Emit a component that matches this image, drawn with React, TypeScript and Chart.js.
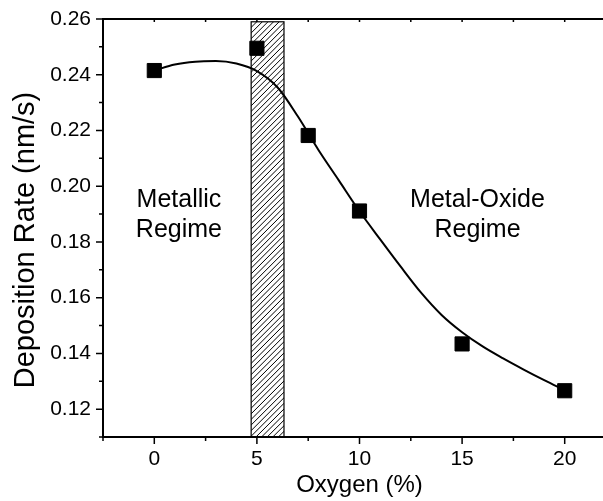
import React, { useEffect, useRef } from "react";
import { Chart, registerables } from "chart.js";

Chart.register(...registerables);

// Measured data points
const oxygen = [0, 5, 7.5, 10, 15, 20];
const depositionRate = [0.2415, 0.2495, 0.2182, 0.1911, 0.1434, 0.1266];

// Fitted curve
const fitX = [0, 1, 2, 3, 4, 5, 6, 7, 8, 9, 10, 11, 12, 13, 14, 15, 16, 17, 18, 19, 20];
const fitY = [
  0.2415, 0.2437, 0.2447, 0.2449, 0.244, 0.2413, 0.2355, 0.225, 0.213, 0.202, 0.191,
  0.181, 0.1712, 0.1618, 0.1538, 0.1476, 0.1425, 0.1382, 0.1342, 0.1304, 0.1268,
];

// Axes
const xRange = [-2.5, 22.5];
const yRange = [0.11, 0.26];
const xMajorTicks = [0, 5, 10, 15, 20];
const xMinorTicks = [-2.5, 2.5, 7.5, 12.5, 17.5, 22.5];
const yMajorTicks = [0.12, 0.14, 0.16, 0.18, 0.2, 0.22, 0.24, 0.26];
const yMinorTicks = [0.11, 0.13, 0.15, 0.17, 0.19, 0.21, 0.23, 0.25];
const xTitle = "Oxygen (%)";
const yTitle = "Deposition Rate (nm/s)";

// Transition band (hatched)
const bandX = [4.72, 6.32];
const bandTop = 0.259;

// Regime labels (x, first baseline y)
const regimeText = [
  ["Metallic", "Regime"],
  ["Metal-Oxide", "Regime"],
];
const regimeX = [1.2, 15.75];
const regimeY = [0.1926, 0.1926];

const FONT = "'Liberation Sans', Arial, Helvetica, sans-serif";

export default function App() {
  const ref = useRef<HTMLCanvasElement | null>(null);

  useEffect(() => {
    const canvas = ref.current;
    if (!canvas) return;

    const decor = {
      id: "decor",
      beforeDatasetsDraw(chart: any) {
        const { ctx, scales } = chart;
        const x = scales.x;
        const y = scales.y;
        const x0 = x.getPixelForValue(bandX[0]);
        const x1 = x.getPixelForValue(bandX[1]);
        const yt = y.getPixelForValue(bandTop);
        const yb = y.getPixelForValue(yRange[0]);
        const h = yb - yt;
        ctx.save();
        ctx.beginPath();
        ctx.rect(x0, yt, x1 - x0, h);
        ctx.clip();
        ctx.beginPath();
        ctx.lineWidth = 1;
        ctx.strokeStyle = "#000";
        for (let k = x0 - h; k < x1 + 6; k += 5.6) {
          ctx.moveTo(k, yb);
          ctx.lineTo(k + h, yt);
        }
        ctx.stroke();
        ctx.restore();
        ctx.save();
        ctx.lineWidth = 1.2;
        ctx.strokeStyle = "#000";
        ctx.strokeRect(x0, yt, x1 - x0, h);
        ctx.restore();
      },
      afterDatasetsDraw(chart: any) {
        const { ctx, scales } = chart;
        ctx.save();
        ctx.fillStyle = "#000";
        ctx.font = `25px ${FONT}`;
        ctx.textAlign = "center";
        ctx.textBaseline = "alphabetic";
        regimeText.forEach((lines, i) => {
          const px = scales.x.getPixelForValue(regimeX[i]);
          const py = scales.y.getPixelForValue(regimeY[i]);
          lines.forEach((t, j) => ctx.fillText(t, px, py + j * 30));
        });
        ctx.restore();
      },
      afterDraw(chart: any) {
        const { ctx, chartArea, scales } = chart;
        const x = scales.x;
        const y = scales.y;
        const { left, right, top, bottom } = chartArea;
        ctx.save();
        ctx.strokeStyle = "#000";
        ctx.lineCap = "butt";
        // axis lines
        ctx.lineWidth = 2;
        ctx.beginPath();
        ctx.moveTo(left, top);
        ctx.lineTo(right, top);
        ctx.moveTo(left, top - 1);
        ctx.lineTo(left, bottom);
        ctx.lineTo(right, bottom);
        ctx.stroke();
        // ticks
        ctx.lineWidth = 1.5;
        ctx.beginPath();
        xMajorTicks.forEach((v) => {
          const p = x.getPixelForValue(v);
          ctx.moveTo(p, bottom);
          ctx.lineTo(p, bottom + 7);
          ctx.moveTo(p, top);
          ctx.lineTo(p, top + 3);
        });
        xMinorTicks.forEach((v) => {
          const p = x.getPixelForValue(v);
          ctx.moveTo(p, bottom);
          ctx.lineTo(p, bottom + 4);
          ctx.moveTo(p, top);
          ctx.lineTo(p, top + 3);
        });
        yMajorTicks.forEach((v) => {
          const p = y.getPixelForValue(v);
          ctx.moveTo(left, p);
          ctx.lineTo(left - 7, p);
        });
        yMinorTicks.forEach((v) => {
          const p = y.getPixelForValue(v);
          ctx.moveTo(left, p);
          ctx.lineTo(left - 4, p);
        });
        ctx.stroke();
        ctx.restore();
        // y-axis title
        ctx.save();
        ctx.fillStyle = "#000";
        ctx.font = `29px ${FONT}`;
        ctx.textAlign = "center";
        ctx.textBaseline = "middle";
        ctx.translate(26, (top + bottom) / 2 + 12);
        ctx.rotate(-Math.PI / 2);
        ctx.fillText(yTitle, 0, 0);
        ctx.restore();
      },
    };

    const chart = new Chart(canvas, {
      type: "scatter",
      data: {
        datasets: [
          {
            label: "Fit",
            data: fitX.map((v, i) => ({ x: v, y: fitY[i] })),
            showLine: true,
            borderColor: "#000",
            borderWidth: 2,
            pointRadius: 0,
            cubicInterpolationMode: "monotone",
            order: 2,
          },
          {
            label: "Deposition Rate",
            data: oxygen.map((v, i) => ({ x: v, y: depositionRate[i] })),
            showLine: false,
            pointStyle: "rect",
            pointRadius: 10,
            backgroundColor: "#000",
            borderColor: "#000",
            borderWidth: 1,
            order: 1,
          },
        ],
      },
      options: {
        animation: false,
        responsive: false,
        devicePixelRatio: 1,
        layout: { autoPadding: false, padding: { top: 19, right: 0, left: 0, bottom: 0 } },
        plugins: {
          legend: { display: false },
          tooltip: { enabled: false },
        },
        scales: {
          x: {
            type: "linear",
            min: xRange[0],
            max: xRange[1],
            grid: { display: false, drawTicks: false },
            border: { display: false },
            ticks: {
              color: "#000",
              padding: 10,
              font: { family: FONT, size: 21 },
            },
            afterBuildTicks: (s: any) => {
              s.ticks = xMajorTicks.map((v) => ({ value: v }));
            },
            afterFit: (s: any) => {
              s.height = 64;
              s.paddingLeft = 0;
              s.paddingRight = 0;
              s.paddingTop = 0;
              s.paddingBottom = 0;
            },
            title: {
              display: true,
              text: xTitle,
              color: "#000",
              font: { family: FONT, size: 24 },
              padding: { top: 0, bottom: 1 },
            },
          },
          y: {
            type: "linear",
            min: yRange[0],
            max: yRange[1],
            grid: { display: false, drawTicks: false },
            border: { display: false },
            ticks: {
              color: "#000",
              padding: 12,
              font: { family: FONT, size: 21 },
              callback: (v: any) => Number(v).toFixed(2),
            },
            afterBuildTicks: (s: any) => {
              s.ticks = yMajorTicks.map((v) => ({ value: v }));
            },
            afterFit: (s: any) => {
              s.width = 103;
              s.paddingLeft = 0;
              s.paddingRight = 0;
              s.paddingTop = 0;
              s.paddingBottom = 0;
            },
            title: { display: false },
          },
        },
      },
      plugins: [decor],
    });

    return () => chart.destroy();
  }, []);

  return (
    <div
      style={{
        position: "fixed",
        left: 0,
        top: 0,
        width: 603,
        height: 501,
        overflow: "hidden",
        background: "#fff",
      }}
    >
      <canvas ref={ref} width={616} height={501} style={{ width: 616, height: 501, display: "block" }} />
    </div>
  );
}
